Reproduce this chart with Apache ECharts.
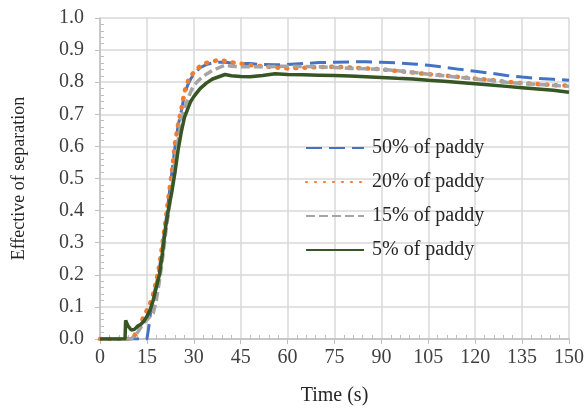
<!DOCTYPE html>
<html>
<head>
<meta charset="utf-8">
<script src="https://cdn.jsdelivr.net/npm/echarts@6/dist/echarts.min.js"></script>
<style>html,body{margin:0;padding:0;background:#fff}#c{width:587px;height:412px}</style>
</head>
<body>
<div id="c"></div>
<script>
const seriesNames = ['50% of paddy', '20% of paddy', '15% of paddy', '5% of paddy'];
const time = [0, 8, 8.2, 9, 10, 11, 12, 13, 14, 15, 15.5, 16, 17, 18, 19, 20, 21, 22, 23, 24, 25, 26, 27, 28, 29, 30, 32, 34, 36, 38, 40, 42, 45, 48, 52, 56, 60, 65, 70, 75, 80, 85, 90, 95, 100, 105, 110, 115, 120, 125, 130, 135, 140, 145, 150];
const paddy50 = [0, 0, 0, 0, 0, 0, 0, 0, 0, 0, 0.03, 0.07, 0.13, 0.17, 0.22, 0.29, 0.36, 0.44, 0.52, 0.6, 0.665, 0.71, 0.76, 0.79, 0.81, 0.825, 0.845, 0.855, 0.86, 0.862, 0.862, 0.86, 0.858, 0.858, 0.855, 0.854, 0.855, 0.858, 0.861, 0.862, 0.863, 0.864, 0.862, 0.86, 0.857, 0.853, 0.847, 0.84, 0.834, 0.828, 0.821, 0.816, 0.812, 0.809, 0.806];
const paddy20 = [0, 0, 0, 0, 0, 0.01, 0.03, 0.05, 0.07, 0.09, 0.1, 0.11, 0.14, 0.18, 0.23, 0.3, 0.37, 0.45, 0.52, 0.61, 0.67, 0.715, 0.77, 0.8, 0.82, 0.83, 0.85, 0.86, 0.865, 0.869, 0.866, 0.862, 0.858, 0.853, 0.85, 0.846, 0.843, 0.845, 0.847, 0.848, 0.846, 0.843, 0.84, 0.835, 0.83, 0.825, 0.821, 0.816, 0.811, 0.807, 0.801, 0.797, 0.794, 0.791, 0.789];
const paddy15 = [0, 0, 0, 0, 0, 0.01, 0.02, 0.035, 0.05, 0.06, 0.065, 0.07, 0.08, 0.12, 0.18, 0.25, 0.33, 0.4, 0.47, 0.55, 0.62, 0.68, 0.72, 0.745, 0.77, 0.79, 0.81, 0.825, 0.837, 0.845, 0.853, 0.85, 0.848, 0.848, 0.848, 0.849, 0.85, 0.849, 0.848, 0.846, 0.843, 0.842, 0.84, 0.836, 0.831, 0.825, 0.82, 0.815, 0.81, 0.806, 0.8, 0.796, 0.793, 0.79, 0.787];
const paddy5 = [0, 0, 0.058, 0.04, 0.028, 0.03, 0.04, 0.045, 0.055, 0.07, 0.08, 0.09, 0.12, 0.16, 0.2, 0.27, 0.35, 0.41, 0.46, 0.52, 0.59, 0.645, 0.69, 0.715, 0.74, 0.755, 0.78, 0.797, 0.81, 0.817, 0.824, 0.82, 0.818, 0.817, 0.821, 0.826, 0.824, 0.823, 0.822, 0.821, 0.819, 0.817, 0.815, 0.812, 0.81, 0.806, 0.803, 0.799, 0.795, 0.791, 0.787, 0.783, 0.779, 0.775, 0.769];

const pairs = arr => time.map((t, i) => [t, arr[i]]);
const FONT = '"Liberation Serif", "Times New Roman", serif';

const chart = echarts.init(document.getElementById('c'), null, {renderer: 'canvas'});
chart.setOption({
  animation: false,
  backgroundColor: '#ffffff',
  grid: {left: 100, right: 18, top: 18, bottom: 73, containLabel: false},
  legend: {
    orient: 'vertical', left: 305, top: 138, padding: 0,
    itemWidth: 58, itemHeight: 14, itemGap: 14,
    itemStyle: {opacity: 0},
    textStyle: {fontFamily: FONT, fontSize: 20, color: '#262626', padding: [0, 0, 0, 3]},
    data: seriesNames
  },
  xAxis: {
    type: 'value', min: 0, max: 150, interval: 15,
    name: 'Time (s)', nameLocation: 'middle', nameGap: 47,
    nameTextStyle: {fontFamily: FONT, fontSize: 20, color: '#262626'},
    axisLine: {show: true, lineStyle: {color: '#bfbfbf', width: 1.5}},
    axisTick: {show: true, length: 5, lineStyle: {color: '#bfbfbf'}},
    minorTick: {show: true, splitNumber: 5, length: -4, lineStyle: {color: '#bfbfbf'}},
    axisLabel: {fontFamily: FONT, fontSize: 20, color: '#404040', margin: 9},
    splitLine: {show: true, lineStyle: {color: '#d9d9d9', width: 1.5}}
  },
  yAxis: {
    type: 'value', min: 0, max: 1, interval: 0.1,
    name: 'Effective of separation', nameLocation: 'middle', nameGap: 72,
    nameTextStyle: {fontFamily: FONT, fontSize: 18, color: '#262626'},
    axisLine: {show: true, lineStyle: {color: '#bfbfbf', width: 1.5}},
    axisTick: {show: true, length: 5, lineStyle: {color: '#bfbfbf'}},
    minorTick: {show: true, splitNumber: 5, length: -4, lineStyle: {color: '#bfbfbf'}},
    axisLabel: {fontFamily: FONT, fontSize: 20, color: '#404040', margin: 16, formatter: v => v.toFixed(1)},
    splitLine: {show: true, lineStyle: {color: '#d9d9d9', width: 1.5}}
  },
  series: [
    {name: seriesNames[0], type: 'line', symbol: 'none', data: pairs(paddy50), z: 2,
     lineStyle: {color: '#4472C4', width: 3, type: [16, 7]}, itemStyle: {color: '#4472C4'}},
    {name: seriesNames[1], type: 'line', symbol: 'none', data: pairs(paddy20), z: 3,
     lineStyle: {color: '#ED7D31', width: 4.5, type: [1, 8], cap: 'round'}, itemStyle: {color: '#ED7D31'}},
    {name: seriesNames[2], type: 'line', symbol: 'none', data: pairs(paddy15), z: 4,
     lineStyle: {color: '#A5A5A5', width: 3.5, type: [9, 4]}, itemStyle: {color: '#A5A5A5'}},
    {name: seriesNames[3], type: 'line', symbol: 'none', data: pairs(paddy5), z: 5,
     lineStyle: {color: '#375623', width: 3.5, type: 'solid'}, itemStyle: {color: '#375623'}}
  ]
});
</script>
</body>
</html>
